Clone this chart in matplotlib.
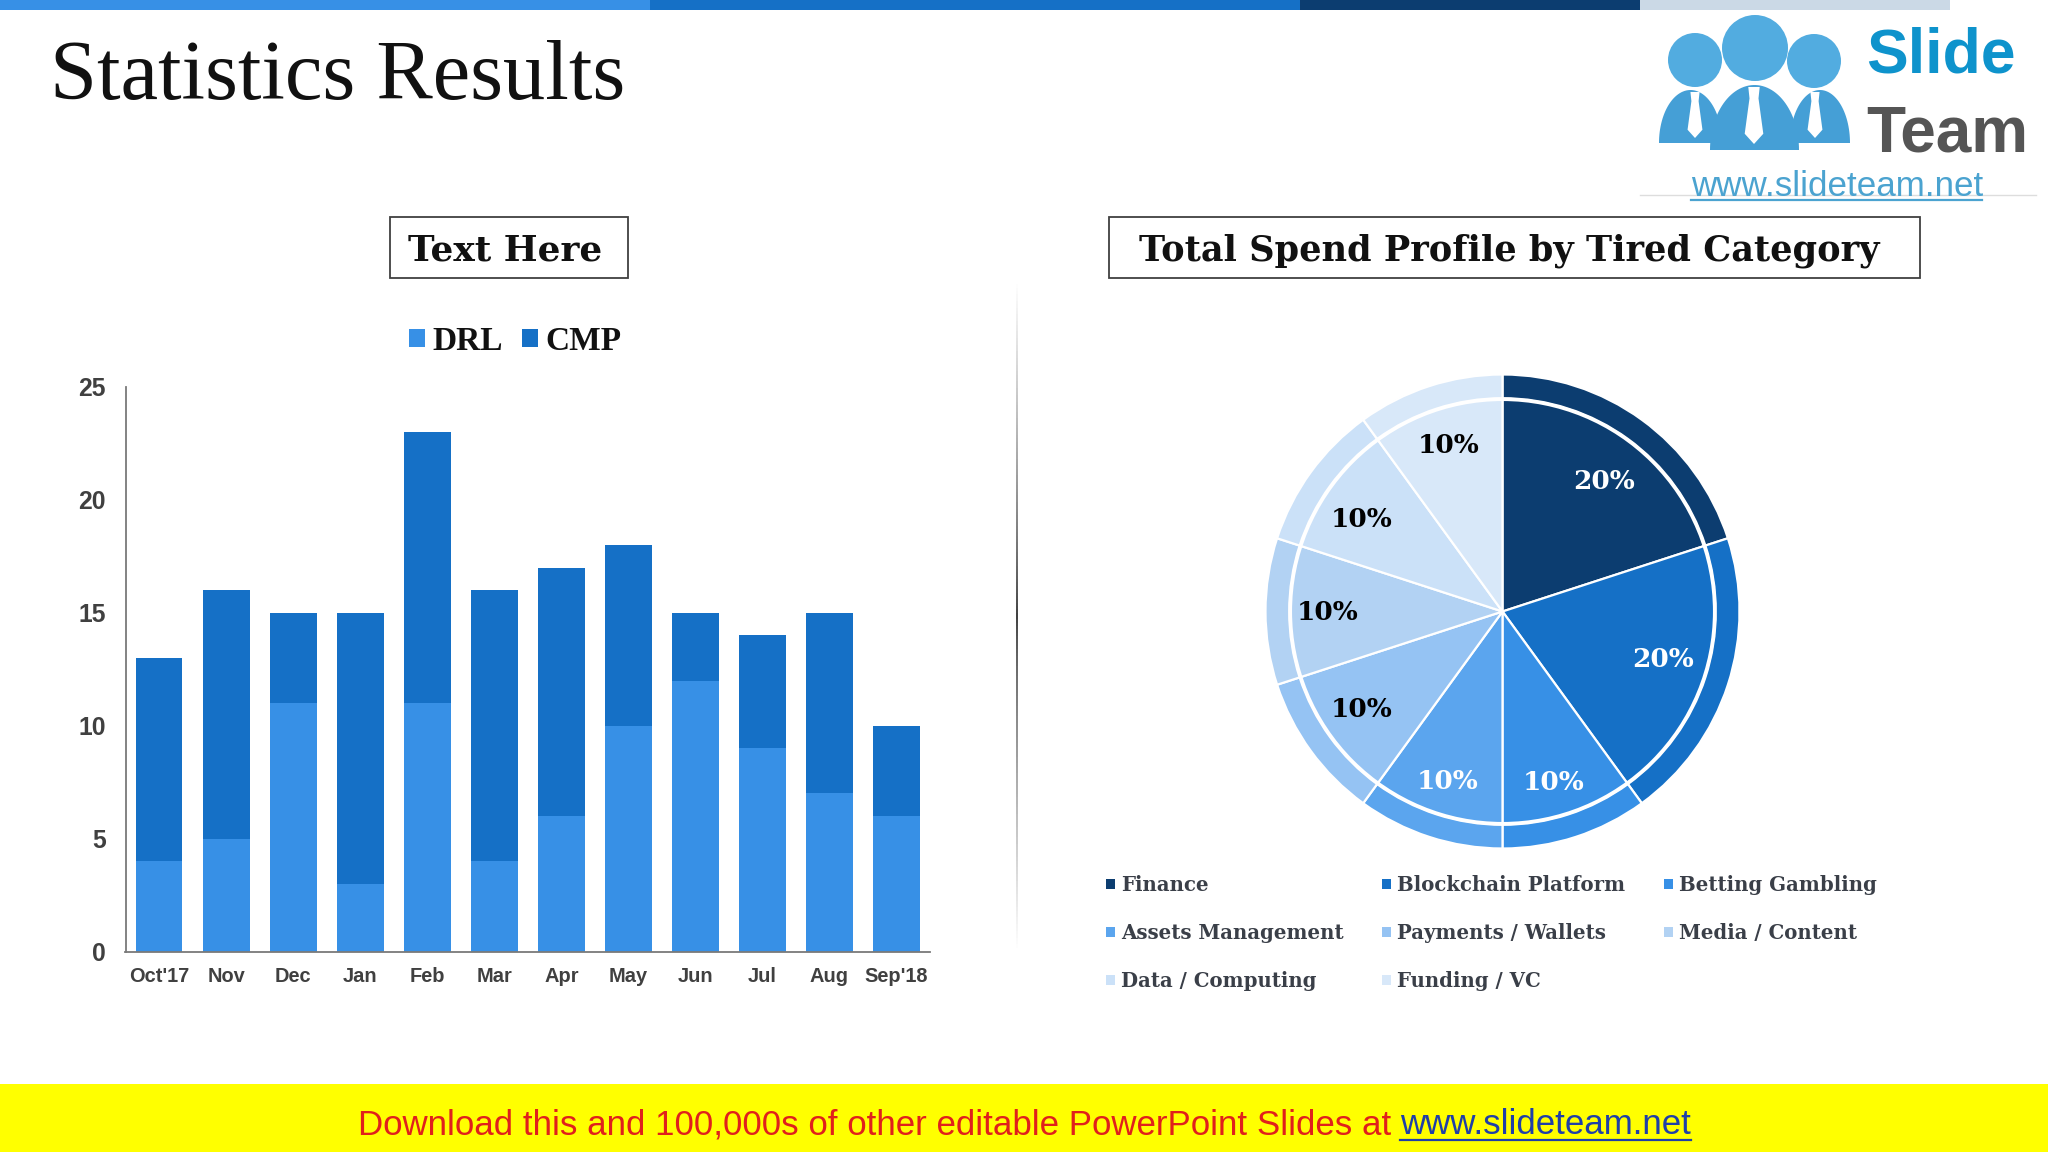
import numpy as np
import matplotlib
matplotlib.use("Agg")
import matplotlib.pyplot as plt
from matplotlib.patches import Rectangle, Circle, Polygon
from matplotlib.lines import Line2D

months = ["Oct'17", "Nov", "Dec", "Jan", "Feb", "Mar", "Apr", "May", "Jun", "Jul", "Aug", "Sep'18"]
drl = [4, 5, 11, 3, 11, 4, 6, 10, 12, 9, 7, 6]
cmp_ = [9, 11, 4, 12, 12, 12, 11, 8, 3, 5, 8, 4]
y_ticks = [0, 5, 10, 15, 20, 25]

pie_labels = ["Finance", "Blockchain Platform", "Betting Gambling", "Assets Management",
              "Payments / Wallets", "Media / Content", "Data / Computing", "Funding / VC"]
pie_values = [20, 20, 10, 10, 10, 10, 10, 10]
pie_colors = ["#0C3D70", "#1570C6", "#3790E6", "#5BA5EE", "#95C3F3", "#B2D2F3", "#CBE1F8", "#D8E8F9"]
pie_text = ["white", "white", "white", "white", "black", "black", "black", "black"]

W, H = 2048, 1152
SERIF = "Liberation Serif"
WIDE = "DejaVu Serif"
SANS = "Liberation Sans"
fig = plt.figure(figsize=(W / 100, H / 100), dpi=100, facecolor="white")

def box(l, t, r, b):
    return [l / W, 1 - b / H, (r - l) / W, (b - t) / H]

deco = fig.add_axes([0, 0, 1, 1], zorder=0)
deco.axis("off")

for x0, x1, c in [(0, 650, "#3790E6"), (650, 1300, "#1570C6"), (1300, 1640, "#0C3D70"), (1640, 1950, "#CBD9E6")]:
    deco.add_patch(Rectangle((x0, 0), x1 - x0, 10, fc=c, ec="none"))

deco.text(50, 79, "Statistics Results", family=SERIF, fontsize=60.8, color="#111111", va="center", ha="left")

for l, r, cx, fs, label in [(390, 628, 505, 25.8, "Text Here"), (1109, 1920, 1509, 25.3, "Total Spend Profile by Tired Category")]:
    deco.add_patch(Rectangle((l, 217), r - l, 61, fc="white", ec="#404040", lw=1.3))
    deco.text(cx, 250.5, label, family=WIDE, weight="bold", fontsize=fs, color="#111111",
              ha="center", va="center")

# divider, darkest in the middle and fading to both ends
grad = np.ones((200, 1, 4))
grad[..., :3] = 0.25
grad[:, 0, 3] = 1 - np.abs(np.linspace(-1, 1, 200)) ** 0.8
deco.imshow(grad, extent=(1016.2, 1017.8, 951, 281), aspect="auto", zorder=1)
deco.set_xlim(0, W)
deco.set_ylim(H, 0)

# bottom banner
deco.add_patch(Rectangle((0, 1084), W, 68, fc="#FFFF00", ec="none"))
deco.text(358, 1125, "Download this and 100,000s of other editable PowerPoint Slides at", family=SANS,
          fontsize=25.15, color="#E0201C", ha="left", va="center")
deco.text(1400, 1125, "www.slideteam.net", family=SANS, fontsize=25.15, color="#1F3FA8", ha="left", va="center")
deco.add_line(Line2D([1400, 1691], [1140, 1140], color="#1F3FA8", lw=1.6))

# logo
BLUE = "#52ACE0"
BLUE_D = "#459FD6"
def dome(l, r, top, bottom, color, z):
    t = np.linspace(np.pi, 2 * np.pi, 60)
    cx, rx = (l + r) / 2, (r - l) / 2
    pts = np.c_[cx + rx * np.cos(t), bottom + (bottom - top) * np.sin(t)]
    deco.add_patch(Polygon(pts, closed=True, fc=color, ec="none", zorder=z))
def tie(cx, top, w, h, z):
    pts = [(cx - w * .38, top), (cx + w * .38, top), (cx + w * .3, top + h * .2), (cx + w * .62, top + h * .82),
           (cx, top + h), (cx - w * .62, top + h * .82), (cx - w * .3, top + h * .2)]
    deco.add_patch(Polygon(pts, closed=True, fc="white", ec="none", zorder=z))
dome(1659, 1722, 90, 143, BLUE_D, 3)
dome(1790, 1850, 90, 143, BLUE_D, 3)
deco.add_patch(Circle((1695, 60), 27, fc=BLUE, ec="none", zorder=3))
deco.add_patch(Circle((1814, 61), 27, fc=BLUE, ec="none", zorder=3))
tie(1695, 92, 12, 46, 4)
tie(1815, 92, 12, 46, 4)
dome(1710, 1799, 85, 150, BLUE_D, 5)
deco.add_patch(Circle((1755, 48), 33, fc=BLUE, ec="none", zorder=5))
tie(1754, 87, 15, 57, 6)
deco.text(1866, 56, "Slide", family=SANS, weight="bold", fontsize=45, color="#0E93CC", ha="left", va="center", zorder=5)
deco.text(1866, 135, "Team", family=SANS, weight="bold", fontsize=46, color="#555555", ha="left", va="center", zorder=5)
deco.text(1691, 187, "www.slideteam.net", family=SANS, fontsize=25.2, color="#4BA3D0", ha="left", va="center", zorder=5)
deco.add_line(Line2D([1640, 2036], [195, 195], color="#DDDDDD", lw=1))
deco.add_line(Line2D([1691, 1982], [200, 200], color="#4BA3D0", lw=1.6))

# stacked bars
ax = fig.add_axes(box(125.5, 387, 930, 951.5), zorder=2)
ax.patch.set_alpha(0)
x = np.arange(len(months))
ax.bar(x, drl, width=0.7, color="#3790E6", label="DRL")
ax.bar(x, cmp_, width=0.7, bottom=drl, color="#1570C6", label="CMP")
ax.set_xlim(-0.5, len(months) - 0.5)
ax.set_ylim(0, 25)
ax.set_yticks(y_ticks)
ax.set_xticks(x, months)
ax.tick_params(length=0)
ax.tick_params(axis="x", pad=11)
ax.tick_params(axis="y", pad=14)
for t in ax.get_xticklabels():
    t.set(family=SANS, weight="bold", fontsize=14.4, color="#404040")
for t in ax.get_yticklabels():
    t.set(family=SANS, weight="bold", fontsize=17.8, color="#404040")
ax.spines[["top", "right"]].set_visible(False)
ax.spines[["left", "bottom"]].set_color("#7A7A7A")
ax.spines[["left", "bottom"]].set_linewidth(1.3)
leg = ax.legend(loc="center", bbox_to_anchor=((515.5 - 125.5) / 804.5, 1 + (387 - 341.5) / 564.5), ncol=2, frameon=False,
                handlelength=0.47, handleheight=0.47, handletextpad=0.23, columnspacing=0.58,
                prop={"family": SERIF, "weight": "bold", "size": 24})
for t in leg.get_texts():
    t.set_color("#111111")

# pie
R = 237
pax = fig.add_axes(box(1502.5 - R, 611.5 - R, 1502.5 + R, 611.5 + R), zorder=2)
pax.patch.set_alpha(0)
wedge_kw = dict(edgecolor="white", linewidth=1.6)
outer, _ = pax.pie(pie_values, colors=pie_colors, startangle=90, counterclock=False, radius=1.0, wedgeprops=wedge_kw)
inner, _ = pax.pie(pie_values, colors=pie_colors, startangle=90, counterclock=False, radius=0.9, wedgeprops=wedge_kw)
pax.add_patch(Circle((0, 0), 0.895, fc="none", ec="white", lw=2.4, zorder=5))
pax.set_xlim(-1, 1)
pax.set_ylim(-1, 1)
pax.set_aspect("equal")

cum = np.cumsum([0] + pie_values[:-1])
label_r = [0.70, 0.704, 0.746, 0.75, 0.72, 0.736, 0.712, 0.74]
label_turn = [1.7, -1.7, 1.3, 0, 1.6, 0, -2.3, 0]
for v, c0, tc, rr, da in zip(pie_values, cum, pie_text, label_r, label_turn):
    ang = np.deg2rad(90 - (c0 + v / 2) * 3.6 - da)
    pax.text(rr * np.cos(ang), rr * np.sin(ang) - 0.005, f"{v}%", family=WIDE, weight="bold", fontsize=19,
             color=tc, ha="center", va="center", zorder=6)

# pie legend, filled by column to read row by row
order = [0, 3, 6, 1, 4, 7, 2, 5]
handles = [Rectangle((0, 0), 1, 1, fc=pie_colors[i], ec="none") for i in order]
labels = [pie_labels[i] for i in order]
pleg = fig.legend(handles, labels, ncol=3, frameon=False, loc="upper left",
                  bbox_to_anchor=(1106 / W, 1 - 875 / H), borderaxespad=0, borderpad=0,
                  handlelength=0.46, handleheight=0.46, handletextpad=0.32, columnspacing=1.93,
                  labelspacing=1.42, prop={"family": WIDE, "weight": "bold", "size": 14.2})
for t in pleg.get_texts():
    t.set_color("#3A3F48")

fig.savefig("out.png", dpi=100)
